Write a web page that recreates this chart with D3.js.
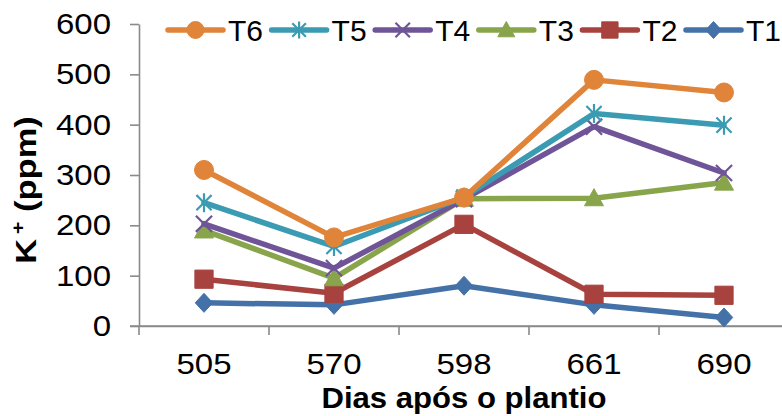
<!DOCTYPE html>
<html>
<head>
<meta charset="utf-8">
<script src="https://cdn.jsdelivr.net/npm/d3@7"></script>
<style>
  body { margin: 0; background: #fff; }
  svg text { font-family: "Liberation Sans", Arial, sans-serif; fill: #000; }
</style>
</head>
<body>
<svg id="chart" width="782" height="416"></svg>
<script>
// Days after planting (x categories)
const days = ["505", "570", "598", "661", "690"];
// K+ content (ppm) per treatment
const T1 = [46, 42, 80, 42, 17];
const T2 = [93, 65, 202, 63, 61];
const T3 = [190, 95, 253, 254, 285];
const T4 = [203, 115, 252, 396, 304];
const T5 = [245, 158, 256, 422, 399];
const T6 = [310, 176, 255, 489, 464];
const yTicks = [0, 100, 200, 300, 400, 500, 600];

const seriesNames = ["T1", "T2", "T3", "T4", "T5", "T6"];
const seriesValues = [T1, T2, T3, T4, T5, T6];
const seriesColors = ["#4472A8", "#A8423F", "#89A54C", "#6F5597", "#3B9BB2", "#E0843A"];
const seriesMarkers = ["diamond", "square", "triangle", "x", "star", "circle"];
const legendOrder = ["T6", "T5", "T4", "T3", "T2", "T1"];

const svg = d3.select("#chart");
const axisColor = "#8a8a8a";

const x = d3.scaleBand().domain(days).range([139, 789]);
const y = d3.scaleLinear().domain([0, 600]).range([326, 24]);

// marker shapes centred on the origin, s = nominal size in px
function markerPath(type, s) {
  const h = s / 2;
  switch (type) {
    case "circle": return d3.symbol(d3.symbolCircle, Math.PI * h * h)();
    case "square": return `M${-h * 0.96},${-h * 0.96}H${h * 0.96}V${h * 0.96}H${-h * 0.96}Z`;
    case "diamond": return `M0,${-h}L${h * 0.92},0L0,${h}L${-h * 0.92},0Z`;
    case "triangle": return `M0,${-h * 1.0}L${h * 1.0},${h * 0.8}L${-h * 1.0},${h * 0.8}Z`;
    case "x": return `M${-h * 0.85},${-h * 0.85}L${h * 0.85},${h * 0.85}M${h * 0.85},${-h * 0.85}L${-h * 0.85},${h * 0.85}`;
    case "star": return `M${-h * 0.8},${-h * 0.8}L${h * 0.8},${h * 0.8}M${h * 0.8},${-h * 0.8}L${-h * 0.8},${h * 0.8}M0,${-h}L0,${h}`;
  }
}
const stroked = t => t === "x" || t === "star";

function drawMarker(g, type, color, s) {
  const p = g.append("path").attr("d", markerPath(type, s));
  if (stroked(type)) {
    p.attr("fill", "none").attr("stroke", color).attr("stroke-width", 2.2);
  } else {
    p.attr("fill", color).attr("stroke", color).attr("stroke-width", 1);
  }
  return p;
}

// ---- Y axis
const yAxis = d3.axisLeft(y).tickValues(yTicks).tickSizeInner(9).tickSizeOuter(0).tickPadding(19);
const gy = svg.append("g").attr("transform", "translate(139,0)").call(yAxis);
gy.select(".domain").attr("stroke", axisColor).attr("stroke-width", 1.6);
gy.selectAll(".tick line").attr("stroke", axisColor).attr("stroke-width", 1.6);
gy.selectAll(".tick text").attr("font-size", 30).attr("fill", "#000");

// ---- X axis: labels in band centres, tick marks on band edges
const xAxis = d3.axisBottom(x).tickSize(0).tickPadding(27);
const gx = svg.append("g").attr("transform", "translate(0,326)").call(xAxis);
gx.select(".domain").attr("stroke", axisColor).attr("stroke-width", 1.6);
gx.selectAll(".tick text").attr("font-size", 30).attr("fill", "#000");
const edges = days.map(d => x(d)).concat([x(days[days.length - 1]) + x.bandwidth()]);
svg.append("g").selectAll("line").data(edges).join("line")
  .attr("x1", d => d).attr("x2", d => d)
  .attr("y1", 326).attr("y2", 335)
  .attr("stroke", axisColor).attr("stroke-width", 1.6);
svg.append("line").attr("x1", 130).attr("x2", 782).attr("y1", 326).attr("y2", 326)
  .attr("stroke", axisColor).attr("stroke-width", 1.6);

// slight horizontal widening of the tick labels
svg.selectAll(".tick text").each(function () {
  const len = this.getComputedTextLength();
  d3.select(this).attr("textLength", len * 1.1).attr("lengthAdjust", "spacingAndGlyphs");
});

// ---- Series
const line = d3.line().x((d, i) => x(days[i]) + x.bandwidth() / 2).y(d => y(d));
seriesValues.forEach((vals, k) => {
  const g = svg.append("g");
  g.append("path").datum(vals).attr("d", line)
    .attr("fill", "none").attr("stroke", seriesColors[k])
    .attr("stroke-width", 5.5).attr("stroke-linejoin", "round").attr("stroke-linecap", "round");
  vals.forEach((v, i) => {
    const m = g.append("g").attr("transform", `translate(${x(days[i]) + x.bandwidth() / 2},${y(v)})`);
    drawMarker(m, seriesMarkers[k], seriesColors[k], 19);
  });
});

// ---- Legend
const legend = svg.append("g");
legendOrder.forEach((name, i) => {
  const k = seriesNames.indexOf(name);
  const x0 = 168 + i * 103.6;
  const g = legend.append("g").attr("transform", `translate(${x0},30)`);
  g.append("line").attr("x1", 0).attr("x2", 55).attr("y1", 0).attr("y2", 0)
    .attr("stroke", seriesColors[k]).attr("stroke-width", 5.5).attr("stroke-linecap", "round");
  const m = g.append("g").attr("transform", "translate(27.5,0)");
  drawMarker(m, seriesMarkers[k], seriesColors[k], 17);
  g.append("text").attr("x", 60).attr("y", 11).attr("font-size", 30).text(name);
});

// ---- Axis titles
svg.append("text")
  .attr("x", 464).attr("y", 408)
  .attr("text-anchor", "middle").attr("font-size", 29).attr("font-weight", "bold")
  .attr("textLength", 285).attr("lengthAdjust", "spacingAndGlyphs")
  .text("Dias após o plantio");

const yt = svg.append("text")
  .attr("transform", "translate(36,190) rotate(-90) scale(1.15,1)")
  .attr("text-anchor", "middle").attr("font-size", 30).attr("font-weight", "bold");
yt.append("tspan").text("K");
yt.append("tspan").attr("font-size", 19).attr("dy", -12).attr("dx", 4).text("+");
yt.append("tspan").attr("dy", 12).text(" (ppm)");
</script>
</body>
</html>
